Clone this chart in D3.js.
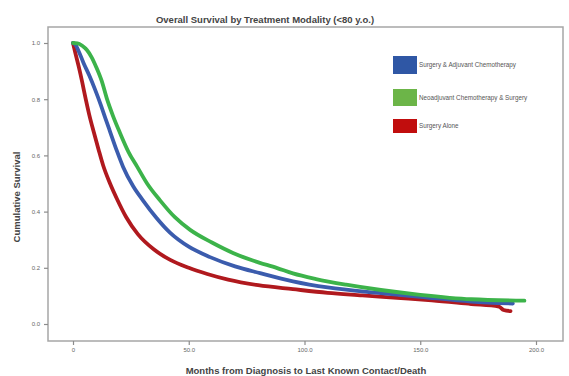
<!DOCTYPE html>
<html>
<head>
<meta charset="utf-8">
<script src="https://cdn.jsdelivr.net/npm/d3@7"></script>
<style>
  html, body { margin: 0; padding: 0; background: #fff; }
  svg { display: block; font-family: "Liberation Sans", Arial, sans-serif; }
</style>
</head>
<body>
<svg id="chart" width="569" height="376"></svg>
<script>
// Kaplan-Meier survival estimates (months, cumulative survival) per group
const adjuvantMonths   = [0, 1, 2.5, 4.5, 7, 9.5, 12, 14, 16, 19, 21.6, 26, 30.2, 36, 41.9, 50, 59.2, 70, 80.8, 95, 110, 133, 150, 172, 190];
const adjuvantSurvival = [1.0, 0.995, 0.97, 0.93, 0.885, 0.835, 0.78, 0.732, 0.685, 0.615, 0.56, 0.49, 0.44, 0.378, 0.325, 0.275, 0.238, 0.205, 0.181, 0.152, 0.13, 0.11, 0.097, 0.08, 0.073];

const neoadjMonths   = [0, 2, 4, 6, 8, 10, 12.4, 14.7, 17.3, 20.3, 24, 27.7, 32, 37.6, 44, 50.6, 60, 69.1, 78, 88.2, 95, 105, 118, 133, 150, 172, 195];
const neoadjSurvival = [1.0, 0.999, 0.99, 0.975, 0.95, 0.915, 0.865, 0.80, 0.74, 0.68, 0.612, 0.56, 0.50, 0.44, 0.38, 0.335, 0.29, 0.253, 0.225, 0.199, 0.180, 0.160, 0.140, 0.121, 0.104, 0.088, 0.083];

const aloneMonths   = [0, 1, 2.5, 4, 5.5, 7, 9, 11, 13, 16, 19, 23, 28, 35, 42, 50, 58, 67, 80, 95, 110, 125, 140, 155, 172, 184, 186, 189];
const aloneSurvival = [1.0, 0.965, 0.915, 0.86, 0.8, 0.745, 0.682, 0.622, 0.565, 0.50, 0.445, 0.38, 0.32, 0.265, 0.228, 0.20, 0.178, 0.158, 0.138, 0.124, 0.111, 0.102, 0.093, 0.084, 0.071, 0.062, 0.05, 0.046];

const groupNames  = ["Surgery & Adjuvant Chemotherapy", "Neoadjuvant Chemotherapy & Surgery", "Surgery Alone"];
const lineColors  = ["#3b5cad", "#3cb34a", "#b0191e"];
const swatchColors = ["#2f57a5", "#6cb548", "#c10d0d"];

const xTicks = [0, 50, 100, 150, 200];
const xTickLabels = ["0", "50.0", "100.0", "150.0", "200.0"];
const yTicks = [0, 0.2, 0.4, 0.6, 0.8, 1.0];
const yTickLabels = ["0.0", "0.2", "0.4", "0.6", "0.8", "1.0"];

const svg = d3.select("#chart");

const frame = { left: 48, top: 27, right: 563, bottom: 341 };
const x = d3.scaleLinear().domain([0, 200]).range([73, 536]);
const y = d3.scaleLinear().domain([0, 1]).range([324, 43]);

// plot frame
svg.append("rect")
  .attr("x", frame.left).attr("y", frame.top)
  .attr("width", frame.right - frame.left).attr("height", frame.bottom - frame.top)
  .attr("fill", "#fff").attr("stroke", "#a6a6a6").attr("stroke-width", 1.5);

// y axis on the left frame edge
const yAxis = d3.axisLeft(y).tickValues(yTicks)
  .tickFormat((d, i) => yTickLabels[i]).tickSize(4).tickPadding(4);
const gy = svg.append("g").attr("transform", `translate(${frame.left},0)`).call(yAxis);
gy.select(".domain").remove();
gy.selectAll("line").attr("stroke", "#8c8c8c").attr("stroke-width", 1.2);
gy.selectAll("text").attr("fill", "#666").attr("font-size", 6);

// x axis on the bottom frame edge
const xAxis = d3.axisBottom(x).tickValues(xTicks)
  .tickFormat((d, i) => xTickLabels[i]).tickSize(4).tickPadding(3);
const gx = svg.append("g").attr("transform", `translate(0,${frame.bottom})`).call(xAxis);
gx.select(".domain").remove();
gx.selectAll("line").attr("stroke", "#8c8c8c").attr("stroke-width", 1.2);
gx.selectAll("text").attr("fill", "#666").attr("font-size", 6);

// survival curves
const series = [
  { months: adjuvantMonths, surv: adjuvantSurvival },
  { months: neoadjMonths, surv: neoadjSurvival },
  { months: aloneMonths, surv: aloneSurvival }
];
const line = d3.line()
  .x(d => x(d[0])).y(d => y(d[1]))
  .curve(d3.curveMonotoneX);

// draw in order: red underneath, then blue, green on top
[2, 0, 1].forEach(i => {
  const pts = d3.zip(series[i].months, series[i].surv);
  svg.append("path")
    .datum(pts)
    .attr("d", line)
    .attr("fill", "none")
    .attr("stroke", lineColors[i])
    .attr("stroke-width", 3.8)
    .attr("stroke-linejoin", "round")
    .attr("stroke-linecap", "round");
});

// legend
const legendY = [56, 89, 119];
const legendH = [18, 17, 14];
groupNames.forEach((name, i) => {
  svg.append("rect")
    .attr("x", 393).attr("y", legendY[i])
    .attr("width", 24).attr("height", legendH[i])
    .attr("fill", swatchColors[i]);
  svg.append("text")
    .attr("x", 419).attr("y", legendY[i] + legendH[i] / 2 + 2)
    .attr("font-size", 6.3).attr("fill", "#555")
    .text(name);
});

// titles
svg.append("text")
  .attr("x", 265).attr("y", 23)
  .attr("text-anchor", "middle")
  .attr("font-size", 9.5).attr("font-weight", "bold").attr("fill", "#444")
  .text("Overall Survival by Treatment Modality (<80 y.o.)");

svg.append("text")
  .attr("x", 306).attr("y", 374)
  .attr("text-anchor", "middle")
  .attr("font-size", 9.5).attr("font-weight", "bold").attr("fill", "#444")
  .text("Months from Diagnosis to Last Known Contact/Death");

svg.append("text")
  .attr("transform", "translate(20,197) rotate(-90)")
  .attr("text-anchor", "middle")
  .attr("font-size", 9.5).attr("font-weight", "bold").attr("fill", "#444")
  .text("Cumulative Survival");
</script>
</body>
</html>
